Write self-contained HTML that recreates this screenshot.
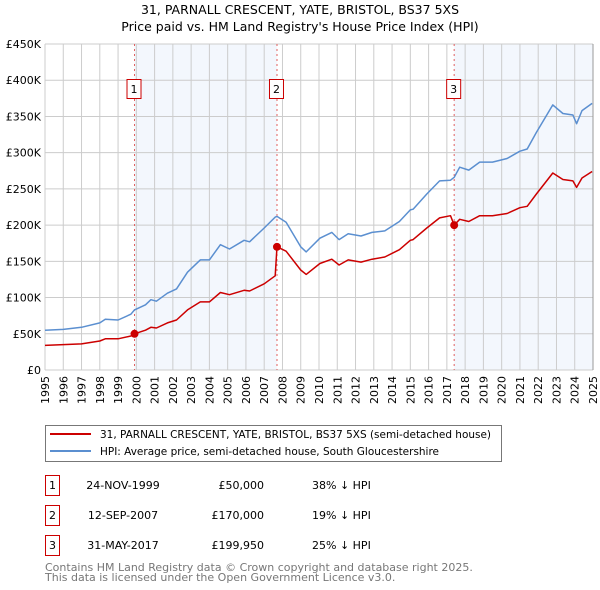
<!DOCTYPE html>
<html><head><meta charset="utf-8"><style>
body{margin:0;background:#fff;font-family:"DejaVu Sans","Liberation Sans",sans-serif;}
svg{display:block}
</style></head><body>
<svg id="c" width="600" height="590" xmlns="http://www.w3.org/2000/svg" font-family="DejaVu Sans, Liberation Sans, sans-serif">
<text x="300" y="14" text-anchor="middle" font-size="12.5" fill="#000">31, PARNALL CRESCENT, YATE, BRISTOL, BS37 5XS</text>
<text x="300" y="31" text-anchor="middle" font-size="12.5" fill="#000">Price paid vs. HM Land Registry's House Price Index (HPI)</text>
<g id="plot"></g>
<rect x="45.5" y="425.5" width="456" height="36" fill="#fff" stroke="#777"/>
<line x1="50" y1="434" x2="91" y2="434" stroke="#cc0000" stroke-width="2"/>
<text x="100" y="438" font-size="10.5" textLength="391" lengthAdjust="spacingAndGlyphs">31, PARNALL CRESCENT, YATE, BRISTOL, BS37 5XS (semi-detached house)</text>
<line x1="50" y1="451" x2="91" y2="451" stroke="#5b8fd0" stroke-width="2"/>
<text x="100" y="455" font-size="10.5" textLength="339" lengthAdjust="spacingAndGlyphs">HPI: Average price, semi-detached house, South Gloucestershire</text>
<g id="tbl" font-size="11"></g>
<text x="45" y="571" font-size="11" fill="#777">Contains HM Land Registry data © Crown copyright and database right 2025.</text>
<text x="45" y="581" font-size="11" fill="#777">This data is licensed under the Open Government Licence v3.0.</text>
</svg>
<script>
const years=[1995.0,1996.0,1997.0,1998.0,1998.3,1999.0,1999.7,1999.9,2000.5,2000.8,2001.1,2001.7,2002.2,2002.8,2003.5,2004.0,2004.6,2005.1,2005.9,2006.2,2007.0,2007.6,2007.7,2008.2,2009.0,2009.3,2010.05,2010.7,2011.1,2011.6,2012.3,2012.9,2013.6,2014.4,2015.0,2015.15,2015.9,2016.6,2017.2,2017.4,2017.7,2018.2,2018.8,2019.5,2020.3,2021.0,2021.4,2021.9,2022.8,2023.35,2023.9,2024.1,2024.4,2024.95];
const hpi=[55,56,59,65,70,69,77,83,90,97,95,106,112,135,152,152,173,167,179,177,196,211,212,204,170,163,182,190,180,188,185,190,192,205,221,222,243,261,262,266,280,276,287,287,292,302,305,328,366,354,352,340,358,368];
const price=[34,35,36,40,43,43,47,50,55,59,58,65,69,83,94,94,107,104,110,109,119,130,170,164,138,132,147,153,145,152,149,153,156,166,179,180,196,210,213,200,208,205,213,213,216,224,226,243,272,263,261,252,265,274];
const saleYears=[1999.9,2007.7,2017.4];
const saleValues=[50,170,199.95];
const saleLabels=["1","2","3"];
const saleDates=["24-NOV-1999","12-SEP-2007","31-MAY-2017"];
const salePrices=["£50,000","£170,000","£199,950"];
const saleDiffs=["38% ↓ HPI","19% ↓ HPI","25% ↓ HPI"];
const yTicks=[0,50,100,150,200,250,300,350,400,450];
const yTickLabels=["£0","£50K","£100K","£150K","£200K","£250K","£300K","£350K","£400K","£450K"];
const xTicks=[1995,1996,1997,1998,1999,2000,2001,2002,2003,2004,2005,2006,2007,2008,2009,2010,2011,2012,2013,2014,2015,2016,2017,2018,2019,2020,2021,2022,2023,2024,2025];

const X0=45,X1=593,Y0=370,Y1=44;
const xs=v=>X0+(v-1995)/30*(X1-X0);
const ys=v=>Y0-v/450*(Y0-Y1);
const NS="http://www.w3.org/2000/svg";
const g=document.getElementById('plot');
function mk(t,a,p){const e=document.createElementNS(NS,t);for(const k in a)e.setAttribute(k,a[k]);(p||g).appendChild(e);return e;}

let bg=mk('rect',{x:X0,y:Y1,width:X1-X0,height:Y0-Y1,fill:'#fff'});


const sh1=mk('rect',{x:xs(saleYears[0]),y:Y1,width:xs(saleYears[1])-xs(saleYears[0]),height:Y0-Y1,fill:'#eef3fc',opacity:0.7});


const sh2=mk('rect',{x:xs(saleYears[2]),y:Y1,width:X1-xs(saleYears[2]),height:Y0-Y1,fill:'#eef3fc',opacity:0.7});



xTicks.forEach((t,i)=>{
  const x=xs(t);
  const l=mk('line',{x1:x,y1:Y1,x2:x,y2:Y0,stroke:'#ccc','stroke-width':1});
  
  
  const tx=mk('text',{x:0,y:0,'font-size':11,'text-anchor':'end',transform:`translate(${x+4},${Y0+6}) rotate(-90)`});
  tx.textContent=t;
  
  
});
yTicks.forEach((t,i)=>{
  const y=ys(t);
  const l=mk('line',{x1:X0,y1:y,x2:X1,y2:y,stroke:'#ccc','stroke-width':1});
  
  
  const tx=mk('text',{x:X0-4,y:y+4,'font-size':11,'text-anchor':'end'});
  tx.textContent=yTickLabels[i];
  
  
});
const ax=mk('line',{x1:X1,y1:Y1,x2:X1,y2:Y0,stroke:'#999'});



saleYears.forEach((s,i)=>{
  const x=xs(s);
  const l=mk('line',{x1:x,y1:Y1,x2:x,y2:Y0,stroke:'#e06060','stroke-dasharray':'2,3','stroke-width':1});
  
  
});

const pts=a=>a.map((v,i)=>xs(years[i]).toFixed(1)+','+ys(v).toFixed(1)).join(' ');
const hl=mk('polyline',{points:pts(hpi),fill:'none',stroke:'#5b8fd0','stroke-width':1.5,'stroke-linejoin':'round'});


const pl=mk('polyline',{points:pts(price),fill:'none',stroke:'#cc0000','stroke-width':1.5,'stroke-linejoin':'round'});



saleYears.forEach((s,i)=>{
  const x=xs(s);
  const c=mk('circle',{cx:x,cy:ys(saleValues[i]),r:4,fill:'#cc0000'});
  
  
  const b=mk('rect',{x:x-7.5,y:79.5,width:14,height:19,fill:'#fff',stroke:'#cc0000'});
  
  
  const t=mk('text',{x:x-0.5,y:93,'font-size':11,'text-anchor':'middle'});
  t.textContent=saleLabels[i];
  
  
});

const tb=document.getElementById('tbl');
saleLabels.forEach((lab,i)=>{
  const y=475+i*30;
  const b=mk('rect',{x:45.5,y:y+0.5,width:14,height:20,fill:'#fff',stroke:'#cc0000'},tb);
  
  
  const cells=[[52.5,lab,'middle'],[123,saleDates[i],'middle'],[264,salePrices[i],'end'],[312,saleDiffs[i],'start']];
  const names=['table-row-number','table-sale-date','table-sale-price','table-hpi-diff'];
  cells.forEach((c,j)=>{
    const t=mk('text',{x:c[0],y:y+14,'text-anchor':c[2]},tb);
    t.textContent=c[1];
    
    
  });
});
</script>
</body></html>
